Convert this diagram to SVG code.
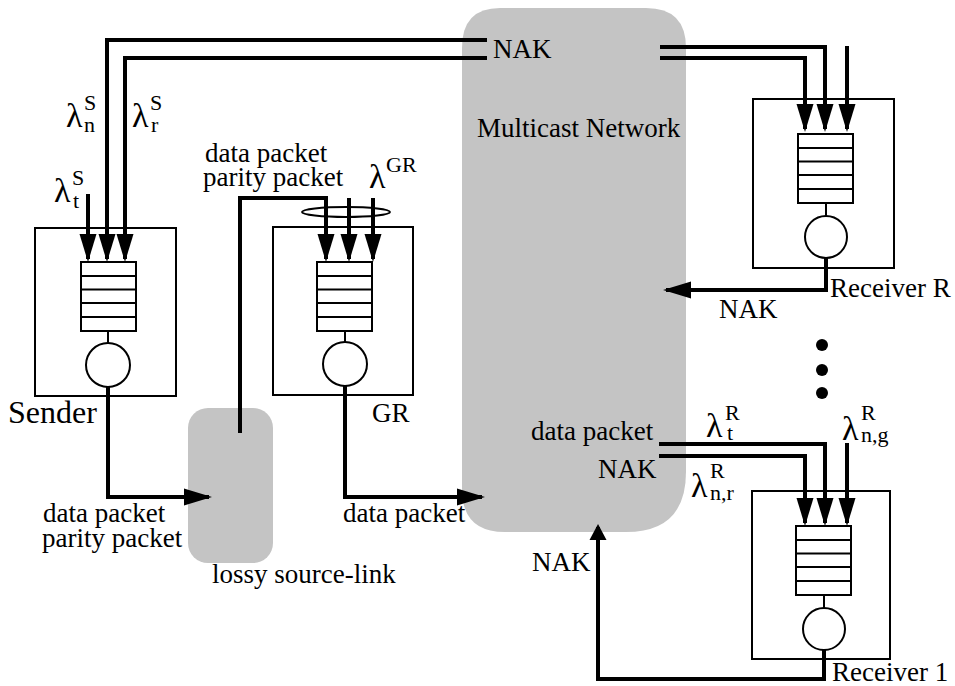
<svg xmlns="http://www.w3.org/2000/svg" width="955" height="686" viewBox="0 0 955 686">
<style>
.bg{fill:#c4c4c4;stroke:none}
.box{fill:none;stroke:#000;stroke-width:2}
.q{fill:#fff;stroke:#000;stroke-width:2}
.thin{stroke:#000;stroke-width:2;fill:none}
.c{fill:none;stroke:#000;stroke-width:4;stroke-linejoin:miter}
.a{marker-end:url(#arr)}
text{font-family:'Liberation Serif','Times New Roman',serif;fill:#000}
.t{font-size:27px}
.big{font-size:32px}
.lam{font-size:34px}
.sc{font-size:22px}
</style>
<defs>
<marker id="arr" markerUnits="userSpaceOnUse" markerWidth="28" markerHeight="18" viewBox="0 0 28 18" refX="25" refY="9" orient="auto"><path d="M0,0.5 L28,9 L0,17.5 Z" fill="#000"/></marker>
<marker id="arrS" markerUnits="userSpaceOnUse" markerWidth="16" markerHeight="18" viewBox="0 0 16 18" refX="13" refY="9" orient="auto"><path d="M0,0.5 L16,9 L0,17.5 Z" fill="#000"/></marker>
<g id="queue">
<rect class="q" x="0" y="0" width="55" height="69"/>
<path class="thin" d="M0,14 H55 M0,27.5 H55 M0,41 H55 M0,55 H55"/>
</g>
</defs>
<rect width="955" height="686" fill="#fff"/>

<g id="network">
<path class="bg" d="M500,8 H646 Q686,8 686,48 V472 Q686,532 626,532 H505 Q462,532 462,489 V48 Q462,8 500,8 Z"/>
<text class="t" x="477" y="137">Multicast Network</text>
<text class="t" x="493" y="58">NAK</text>
<text class="t" x="531" y="440">data packet</text>
<text class="t" x="598" y="478">NAK</text>
</g>

<g id="lossy-link">
<rect class="bg" x="188" y="408" width="85" height="155" rx="20" ry="20"/>
<text class="t" x="212" y="583">lossy source-link</text>
</g>

<g id="sender">
<rect class="box" x="35" y="228" width="141" height="168"/>
<use href="#queue" x="81" y="262"/>
<line class="thin" x1="108" y1="331" x2="108" y2="343"/>
<circle class="box" cx="108" cy="365" r="22"/>
<text class="big" x="8" y="423">Sender</text>
</g>

<g id="gr">
<rect class="box" x="273" y="227" width="140" height="168"/>
<use href="#queue" x="317" y="262"/>
<line class="thin" x1="345" y1="331" x2="345" y2="343"/>
<circle class="box" cx="345" cy="364" r="22"/>
<text class="t" x="372" y="422">GR</text>
</g>

<g id="receiver-r">
<rect class="box" x="753" y="99" width="141" height="169"/>
<use href="#queue" x="798" y="134"/>
<line class="thin" x1="826" y1="203" x2="826" y2="216"/>
<circle class="box" cx="826" cy="237" r="21"/>
<text class="t" x="830" y="297">Receiver R</text>
<text class="t" x="719" y="318">NAK</text>
</g>

<g id="receiver-1">
<rect class="box" x="752" y="491" width="138" height="168"/>
<use href="#queue" x="796" y="526"/>
<line class="thin" x1="824" y1="595" x2="824" y2="608"/>
<circle class="box" cx="824" cy="629" r="21"/>
<text class="t" x="832" y="681">Receiver 1</text>
<text class="t" x="532" y="571">NAK</text>
</g>

<g id="dots">
<circle cx="822" cy="345" r="6"/>
<circle cx="822" cy="370" r="6"/>
<circle cx="822" cy="393" r="6"/>
</g>

<g id="connectors">
<path class="c a" d="M487,40 H107 V259"/>
<path class="c a" d="M487,58 H125 V259"/>
<path class="c a" d="M88,194 V259"/>
<path class="c a" d="M660,47 H825 V129"/>
<path class="c a" d="M660,58 H805 V129"/>
<path class="c a" d="M847,46 V129"/>
<path class="c a" d="M240,433 V198 H326 V259"/>
<path class="c a" d="M349,198 V259"/>
<path class="c a" d="M373,198 V259"/>
<ellipse class="thin" cx="346" cy="212" rx="44" ry="5"/>
<path class="c a" d="M108,387 V497 H209"/>
<path class="c a" d="M345,386 V497 H482"/>
<path class="c a" d="M826,258 V290 H666"/>
<path class="c a" d="M659,444 H825 V523"/>
<path class="c a" d="M659,456 H805 V523"/>
<path class="c a" d="M847,443 V523"/>
<path class="c" d="M824,650 V679 H598 V527" marker-end="url(#arrS)"/>
</g>

<g id="labels">
<text class="lam" x="66" y="127">λ</text><text class="sc" x="84" y="110">S</text><text class="sc" x="84" y="132">n</text>
<text class="lam" x="132" y="127">λ</text><text class="sc" x="150" y="110">S</text><text class="sc" x="151" y="132">r</text>
<text class="lam" x="54" y="202">λ</text><text class="sc" x="72" y="185">S</text><text class="sc" x="73" y="208">t</text>
<text class="lam" x="369" y="188">λ</text><text class="sc" x="386" y="172">GR</text>
<text class="t" x="205" y="162">data packet</text>
<text class="t" x="203" y="186">parity packet</text>
<text class="t" x="43" y="522">data packet</text>
<text class="t" x="42" y="547">parity packet</text>
<text class="t" x="343" y="522">data packet</text>
<text class="lam" x="706" y="437">λ</text><text class="sc" x="725" y="420">R</text><text class="sc" x="727" y="440">t</text>
<text class="lam" x="842" y="440">λ</text><text class="sc" x="861" y="420">R</text><text class="sc" x="861" y="442">n,g</text>
<text class="lam" x="691" y="497">λ</text><text class="sc" x="710" y="478">R</text><text class="sc" x="710" y="500">n,r</text>
</g>
</svg>
